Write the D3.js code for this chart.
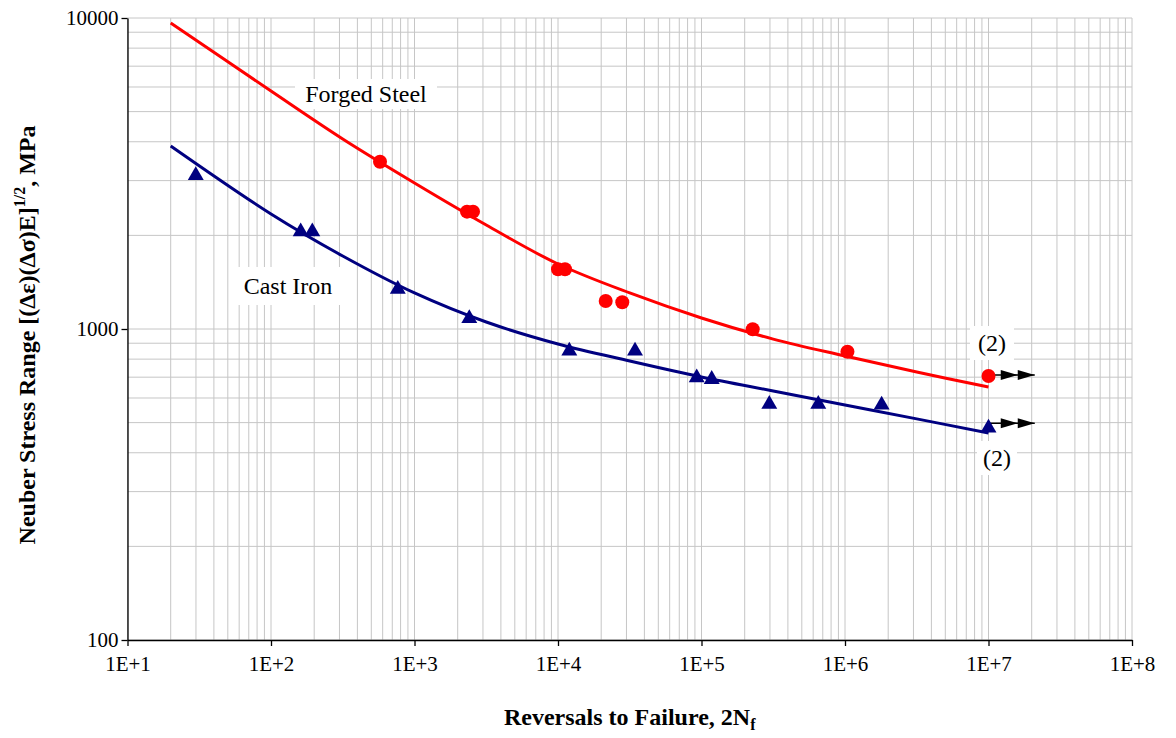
<!DOCTYPE html>
<html>
<head>
<meta charset="utf-8">
<script src="https://cdn.jsdelivr.net/npm/d3@7"></script>
<style>
  html, body { margin: 0; padding: 0; background: #fff; }
  svg { display: block; font-family: "Liberation Serif", "Times New Roman", serif; }
</style>
</head>
<body>
<svg id="chart" width="1176" height="738"></svg>
<script>
// test data
const forgedX = [575, 2322, 2557, 10000, 11190, 21500, 28050, 227400, 1040000, 10000000];
const forgedY = [3450, 2384, 2384, 1556, 1556, 1230, 1219, 998, 845, 706];

const castX = [29.9, 161, 194, 765, 2409, 11990, 34410, 92600, 117800, 296800, 651500, 1800000, 10000000];
const castY = [3117, 2056, 2056, 1343, 1082, 850, 850, 697, 689, 573, 573, 570, 481];

// fitted curves, sampled along the drawn lines
const fitX = [20, 100, 316, 1000, 3162, 10000, 31620, 100000, 316200, 1000000, 3162000, 10000000];
const forgedFitY = [9637, 5823, 4083, 2948, 2160, 1618, 1306, 1085, 928, 819, 727, 651];
const castFitY = [3876, 2343, 1717, 1306, 1053, 895, 789, 701, 632, 570, 514, 463];

// run-outs
const runoutStartX = [10000000, 10000000];
const runoutEndX = [21000000, 21000000];
const runoutY = [711, 498];

const xTicks = [1e1, 1e2, 1e3, 1e4, 1e5, 1e6, 1e7, 1e8];
const xTickLabels = ['1E+1', '1E+2', '1E+3', '1E+4', '1E+5', '1E+6', '1E+7', '1E+8'];
const yTicks = [100, 1000, 10000];

const svg = d3.select('#chart');
const plotLeft = 127.5, plotRight = 1132, plotTop = 18, plotBottom = 640;

const x = d3.scaleLog().domain([1e1, 1e8]).range([plotLeft, plotRight]);
const y = d3.scaleLog().domain([100, 10000]).range([plotBottom, plotTop]);

// minor + major grid
const gridX = [];
for (let e = 1; e < 8; e++) for (let m = 1; m <= 9; m++) gridX.push(m * Math.pow(10, e));
gridX.push(1e8);
const gridY = [];
for (let e = 2; e < 4; e++) for (let m = 1; m <= 9; m++) gridY.push(m * Math.pow(10, e));
gridY.push(1e4);

const grid = svg.append('g').attr('stroke', '#c6c6c6').attr('stroke-width', 1);
grid.selectAll('line.gx').data(gridX).enter().append('line')
    .attr('x1', d => x(d)).attr('x2', d => x(d))
    .attr('y1', plotTop).attr('y2', plotBottom);
grid.selectAll('line.gy').data(gridY).enter().append('line')
    .attr('x1', plotLeft).attr('x2', plotRight)
    .attr('y1', d => y(d)).attr('y2', d => y(d));

// label boxes
function labelBox(cx, cy, w, h, text) {
    svg.append('rect').attr('x', cx - w / 2).attr('y', cy - h / 2)
        .attr('width', w).attr('height', h).attr('fill', '#fff');
    svg.append('text').attr('x', cx).attr('y', cy).attr('dy', '0.35em')
        .attr('text-anchor', 'middle').attr('font-size', 24).attr('fill', '#000')
        .text(text);
}
labelBox(366, 94, 142, 30, 'Forged Steel');
labelBox(288, 286, 104, 38, 'Cast Iron');
labelBox(992, 343, 44, 34, '(2)');
labelBox(997, 458, 40, 34, '(2)');

// axes
const xAxis = d3.axisBottom(x).tickValues(xTicks).tickFormat((d, i) => xTickLabels[i]).tickSize(6).tickSizeOuter(0);
const yAxis = d3.axisLeft(y).tickValues(yTicks).tickFormat(d3.format('d')).tickSize(6).tickSizeOuter(0);

const gx = svg.append('g').attr('transform', `translate(0,${plotBottom})`).call(xAxis);
const gy = svg.append('g').attr('transform', `translate(${plotLeft},0)`).call(yAxis);
[gx, gy].forEach(g => {
    g.attr('font-family', null).attr('font-size', null);
    g.select('.domain').attr('stroke', '#000').attr('stroke-width', 1.3);
    g.selectAll('.tick line').attr('stroke', '#000').attr('stroke-width', 1.3);
    g.selectAll('.tick text').attr('font-size', 21).attr('fill', '#000');
});
gx.selectAll('.tick text').attr('dy', '1.05em');
gy.selectAll('.tick text').attr('x', -9);

// fitted lines
const line = d3.line().x(d => x(d[0])).y(d => y(d[1])).curve(d3.curveCatmullRom.alpha(0.5));
svg.append('path').datum(fitX.map((v, i) => [v, forgedFitY[i]]))
    .attr('d', line).attr('fill', 'none').attr('stroke', '#ff0000').attr('stroke-width', 3);
svg.append('path').datum(fitX.map((v, i) => [v, castFitY[i]]))
    .attr('d', line).attr('fill', 'none').attr('stroke', '#000080').attr('stroke-width', 3);

// run-out arrows
const arrows = svg.append('g');
runoutY.forEach((v, i) => {
    const x0 = x(runoutStartX[i]), x1 = x(runoutEndX[i]), yy = y(v);
    arrows.append('line').attr('x1', x0).attr('x2', x1).attr('y1', yy).attr('y2', yy)
        .attr('stroke', '#000').attr('stroke-width', 1.5);
    [x1 - 17, x1].forEach(tip => {
        arrows.append('path')
            .attr('d', `M${tip},${yy}L${tip - 17},${yy - 5}L${tip - 17},${yy + 5}Z`)
            .attr('fill', '#000');
    });
});

// markers
svg.append('g').selectAll('circle').data(forgedX.map((v, i) => [v, forgedY[i]])).enter()
    .append('circle').attr('cx', d => x(d[0])).attr('cy', d => y(d[1])).attr('r', 7)
    .attr('fill', '#ff0000');
const tri = d3.symbol().type(d3.symbolTriangle).size(110);
svg.append('g').selectAll('path').data(castX.map((v, i) => [v, castY[i]])).enter()
    .append('path').attr('d', tri)
    .attr('transform', d => `translate(${x(d[0])},${y(d[1])})`)
    .attr('fill', '#000080');

// axis titles
const xt = svg.append('text').attr('x', (plotLeft + plotRight) / 2).attr('y', 725)
    .attr('text-anchor', 'middle').attr('font-size', 24).attr('font-weight', 'bold');
xt.append('tspan').text('Reversals to Failure, 2N');
xt.append('tspan').attr('font-size', 16).attr('dy', 5).text('f');

const yt = svg.append('text')
    .attr('transform', `translate(35,${(plotTop + plotBottom) / 2 + 6}) rotate(-90)`)
    .attr('text-anchor', 'middle').attr('font-size', 24).attr('font-weight', 'bold');
yt.append('tspan').text('Neuber Stress Range [(Δε)(Δσ)E]');
yt.append('tspan').attr('font-size', 16).attr('dy', -10).text('1/2');
yt.append('tspan').attr('dy', 10).text(', MPa');
</script>
</body>
</html>
